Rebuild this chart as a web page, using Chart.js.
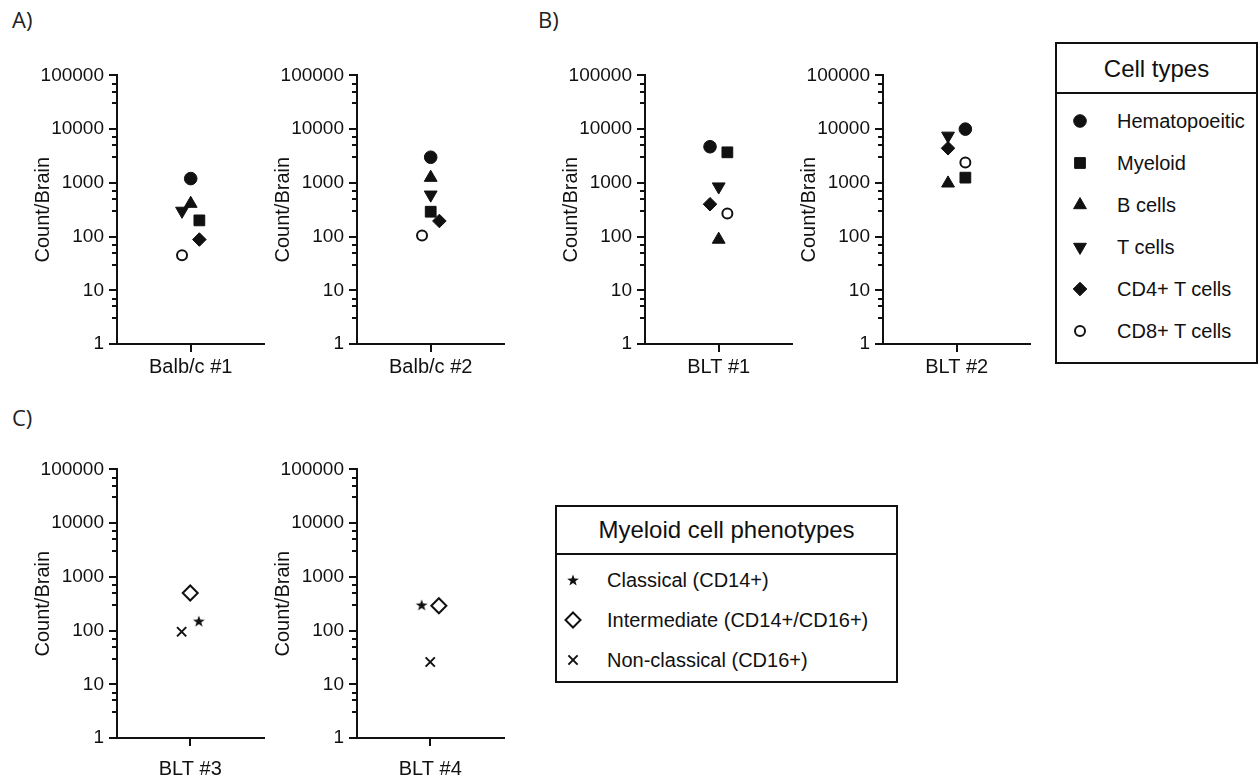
<!DOCTYPE html>
<html>
<head>
<meta charset="utf-8">
<script src="https://cdn.jsdelivr.net/npm/chart.js@4/dist/chart.umd.min.js"></script>
<style>
  body { margin: 0; background: #fff; width: 1258px; height: 782px; position: relative; overflow: hidden;
         font-family: "Liberation Sans", Arial, sans-serif; color: #111; }
  canvas.plot { position: absolute; }
  .panel { position: absolute; font-family: "Open Sans", sans-serif; font-size: 22px; color: #222; }
  .legend { position: absolute; border: 2px solid #111; box-sizing: border-box; }
  .legend .head { border-bottom: 2px solid #111; text-align: center; font-size: 24px; box-sizing: border-box; }
  .legend .row { position: absolute; left: 0; font-size: 20px; white-space: nowrap; }
  .legend .row canvas { position: absolute; }
  .legend .row span { position: absolute; transform: translateY(-50%); }
</style>
</head>
<body>
<div class="panel" style="left:12px; top:4px;">A)</div>
<div class="panel" style="left:538px; top:4px;">B)</div>
<div class="panel" style="left:12px; top:402px;">C)</div>

<div id="legCells" class="legend" style="left:1055px; top:42px; width:203px; height:322px;">
  <div class="head" style="height:50px; line-height:50px;">Cell types</div>
</div>
<div id="legPheno" class="legend" style="left:555px; top:505px; width:343px; height:178px;">
  <div class="head" style="height:48px; line-height:46px;">Myeloid cell phenotypes</div>
</div>

<script>
// cell counts per brain, one value per cell type
const cellTypes = ['Hematopoeitic', 'Myeloid', 'B cells', 'T cells', 'CD4+ T cells', 'CD8+ T cells'];
const balb1 = [1200, 200, 410, 300, 88, 45];
const balb2 = [3000, 290, 1250, 600, 195, 105];
const blt1 = [4700, 3700, 88, 850, 400, 270];
const blt2 = [10000, 1250, 980, 7500, 4400, 2400];

// myeloid phenotypes
const phenotypes = ['Classical (CD14+)', 'Intermediate (CD14+/CD16+)', 'Non-classical (CD16+)'];
const blt3 = [150, 500, 95];
const blt4 = [300, 290, 26];

// horizontal slot of each point (scatter dot plot spreading)
const jitBalb1 = [0, 1, 0, -1, 1, -1];
const jitBalb2 = [0, 0, 0, 0, 1, -1];
const jitBlt1 = [-1, 1, 0, 0, -1, 1];
const jitBlt2 = [1, 1, -1, -1, -1, 1];
const jitBlt3 = [1, 0, -1];
const jitBlt4 = [-1, 1, 0];

const decades = [1, 10, 100, 1000, 10000, 100000];
const minorSteps = [3, 5, 7];

// filled five point star used as a point style
function makeStar(size, outer, inner) {
  const c = document.createElement('canvas');
  c.width = size; c.height = size;
  const g = c.getContext('2d');
  g.fillStyle = '#111';
  g.beginPath();
  for (let i = 0; i < 10; i++) {
    const r = i % 2 ? inner : outer;
    const a = -Math.PI / 2 + i * Math.PI / 5;
    const px = size / 2 + r * Math.cos(a), py = size / 2 + 0.6 + r * Math.sin(a);
    i ? g.lineTo(px, py) : g.moveTo(px, py);
  }
  g.closePath();
  g.fill();
  return c;
}
const starImg = makeStar(14, 6.2, 2.5);

const cellStyles = [
  { pointStyle: 'circle', radius: 6.3, bg: '#111', bw: 1 },
  { pointStyle: 'rect', radius: 7.6, bg: '#111', bw: 1 },
  { pointStyle: 'triangle', radius: 7.4, bg: '#111', bw: 1 },
  { pointStyle: 'triangle', radius: 7.4, bg: '#111', bw: 1, rot: 180 },
  { pointStyle: 'rectRot', radius: 6.8, bg: '#111', bw: 1 },
  { pointStyle: 'circle', radius: 5, bg: '#fff', bw: 2 },
];
const phenoStyles = [
  { pointStyle: starImg, radius: 6, bg: '#111', bw: 0 },
  { pointStyle: 'rectRot', radius: 7.5, bg: '#fff', bw: 2 },
  { pointStyle: 'crossRot', radius: 6.5, bg: '#fff', bw: 2 },
];

const tickFont = { family: '"Liberation Sans", Arial, sans-serif', size: 19 };
const titleFont = { family: '"Liberation Sans", Arial, sans-serif', size: 20 };

// short ticks at 3x, 5x, 7x of every decade
const minorTicks = {
  id: 'minorTicks',
  afterDraw(chart) {
    const y = chart.scales.y, ctx = chart.ctx, left = chart.chartArea.left;
    ctx.save();
    ctx.strokeStyle = '#111';
    ctx.lineWidth = 2;
    decades.slice(0, -1).forEach((d) => {
      minorSteps.forEach((m) => {
        const py = Math.round(y.getPixelForValue(d * m));
        ctx.beginPath();
        ctx.moveTo(left - 5, py);
        ctx.lineTo(left, py);
        ctx.stroke();
      });
    });
    ctx.restore();
  },
};

function plot(left, top, label, values, jitter, styles, labelPad) {
  const cv = document.createElement('canvas');
  cv.className = 'plot';
  cv.width = 256; cv.height = 334;
  cv.style.left = (left - 100) + 'px';
  cv.style.top = (top - 12) + 'px';
  document.body.appendChild(cv);

  new Chart(cv, {
    type: 'scatter',
    data: {
      datasets: values.map((v, i) => ({
        data: [{ x: jitter[i], y: v }],
        pointStyle: styles[i].pointStyle,
        pointRadius: styles[i].radius,
        pointRotation: styles[i].rot || 0,
        pointBackgroundColor: styles[i].bg,
        pointBorderColor: '#111',
        pointBorderWidth: styles[i].bw,
      })),
    },
    options: {
      responsive: false,
      animation: false,
      layout: { padding: { top: 12, right: 6, left: 0, bottom: 0 } },
      plugins: { legend: { display: false }, tooltip: { enabled: false } },
      scales: {
        x: {
          type: 'linear', min: -8.5, max: 8.5,
          afterBuildTicks: (s) => { s.ticks = [{ value: 0 }]; },
          afterFit: (s) => { s.height = 49; },
          ticks: { callback: () => label, color: '#111', font: titleFont, padding: labelPad, maxRotation: 0 },
          grid: { display: true, drawOnChartArea: false, drawTicks: true, tickLength: 8, color: '#111', lineWidth: 2 },
          border: { display: true, color: '#111', width: 2 },
        },
        y: {
          type: 'logarithmic', min: 1, max: 100000,
          afterBuildTicks: (s) => { s.ticks = decades.map((v) => ({ value: v })); },
          afterFit: (s) => { s.width = 100; },
          ticks: { callback: (v) => String(v), color: '#111', font: tickFont, padding: 5, autoSkip: false },
          grid: { display: true, drawOnChartArea: false, drawTicks: true, tickLength: 8, color: '#111', lineWidth: 2 },
          border: { display: true, color: '#111', width: 2 },
          title: { display: true, text: 'Count/Brain', color: '#111', font: titleFont, padding: { top: 14, bottom: 0 } },
        },
      },
    },
    plugins: [minorTicks],
  });
}

plot(117, 71, 'Balb/c #1', balb1, jitBalb1, cellStyles, 3);
plot(357, 71, 'Balb/c #2', balb2, jitBalb2, cellStyles, 3);
plot(645, 71, 'BLT #1', blt1, jitBlt1, cellStyles, 3);
plot(883, 71, 'BLT #2', blt2, jitBlt2, cellStyles, 3);
plot(117, 465, 'BLT #3', blt3, jitBlt3, phenoStyles, 11);
plot(357, 465, 'BLT #4', blt4, jitBlt4, phenoStyles, 11);

// legend marker, same shapes as the plot points
function marker(style, size) {
  const c = document.createElement('canvas');
  c.width = size; c.height = size;
  const g = c.getContext('2d');
  const m = size / 2, r = style.radius;
  g.fillStyle = style.bg; g.strokeStyle = '#111'; g.lineWidth = style.bw || 1;
  if (style.pointStyle instanceof HTMLCanvasElement) {
    g.drawImage(style.pointStyle, m - style.pointStyle.width / 2, m - style.pointStyle.height / 2);
    return c;
  }
  g.translate(m, m);
  g.rotate((style.rot || 0) * Math.PI / 180);
  g.beginPath();
  if (style.pointStyle === 'circle') g.arc(0, 0, r, 0, Math.PI * 2);
  else if (style.pointStyle === 'rect') { const h = r * Math.SQRT1_2; g.rect(-h, -h, 2 * h, 2 * h); }
  else if (style.pointStyle === 'triangle') {
    g.moveTo(0, -r); g.lineTo(r * 0.866, r / 2); g.lineTo(-r * 0.866, r / 2); g.closePath();
  } else if (style.pointStyle === 'rectRot') {
    g.moveTo(0, -r); g.lineTo(r, 0); g.lineTo(0, r); g.lineTo(-r, 0); g.closePath();
  } else if (style.pointStyle === 'crossRot') {
    const h = r * Math.SQRT1_2;
    g.moveTo(-h, -h); g.lineTo(h, h); g.moveTo(h, -h); g.lineTo(-h, h);
    g.stroke();
    return c;
  }
  if (style.bg !== '#fff') g.fill(); else { g.fill(); }
  if (style.bw) g.stroke();
  return c;
}

function legendRows(id, names, styles, firstY, step, symX, textX) {
  const box = document.getElementById(id);
  names.forEach((n, i) => {
    const row = document.createElement('div');
    row.className = 'row';
    row.style.top = (firstY + i * step) + 'px';
    const mk = marker(styles[i], 20);
    mk.style.left = (symX - 10) + 'px';
    mk.style.top = '-10px';
    const t = document.createElement('span');
    t.textContent = n;
    t.style.left = textX + 'px';
    row.appendChild(mk);
    row.appendChild(t);
    box.appendChild(row);
  });
}
legendRows('legCells', cellTypes, cellStyles, 77, 42, 23, 60);
legendRows('legPheno', phenotypes, phenoStyles, 73, 40, 16, 50);
</script>
</body>
</html>
